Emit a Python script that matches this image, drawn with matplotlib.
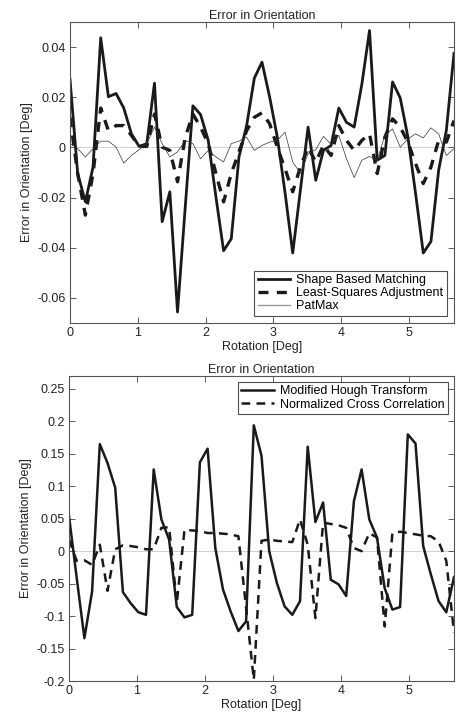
import numpy as np
import matplotlib
matplotlib.use("Agg")
import matplotlib.pyplot as plt

plt.rcParams['font.family'] = ['Liberation Sans', 'DejaVu Sans']

# rotation samples (51 evenly spaced steps)
step = 0.1133
rotation = np.arange(51) * step

# top panel
shape_based = [0.0272, -0.0104, -0.0217, -0.0078, 0.0437, 0.0202, 0.0215, 0.0157, 0.0054, 0.0004,
               0.0015, 0.0256, -0.0296, -0.0177, -0.0656, -0.0240, 0.0166, 0.0131, 0.0028, -0.0197,
               -0.0412, -0.0364, -0.0038, 0.0087, 0.0276, 0.0340, 0.0200, 0.0040, -0.0180, -0.0421,
               -0.0170, 0.0081, -0.0131, -0.0012, 0.0008, 0.0157, 0.0100, 0.0081, 0.0252, 0.0466,
               -0.0051, -0.0032, 0.0261, 0.0197, 0.0041, -0.0184, -0.0421, -0.0375, -0.0091, 0.0067,
               0.0375]
least_squares = [0.0120, -0.0104, -0.0270, -0.0104, 0.0157, 0.0067, 0.0087, 0.0087, 0.0048, 0.0004,
                 0.0004, 0.0133, 0.0001, -0.0012, -0.0137, 0.0040, 0.0133, 0.0081, 0.0015, -0.0104,
                 -0.0217, -0.0104, -0.0018, 0.0067, 0.0120, 0.0138, 0.0094, 0.0000, -0.0085, -0.0177,
                 -0.0078, 0.0001, -0.0058, 0.0008, -0.0032, 0.0087, 0.0028, -0.0012, 0.0028, 0.0054,
                 -0.0104, 0.0041, 0.0114, 0.0081, 0.0021, -0.0065, -0.0144, -0.0078, 0.0028, 0.0021,
                 0.0107]
patmax = [0.0015, -0.0005, -0.0038, -0.0005, 0.0025, 0.0025, 0.0001, -0.0062, -0.0032, -0.0009,
          0.0015, 0.0081, 0.0015, -0.0038, -0.0018, 0.0028, 0.0015, -0.0045, -0.0012, -0.0038,
          -0.0058, 0.0015, 0.0025, 0.0041, -0.0012, 0.0008, 0.0021, 0.0028, 0.0061, -0.0058,
          -0.0104, -0.0025, -0.0009, 0.0044, 0.0012, 0.0048, -0.0045, -0.0120, -0.0051, -0.0036,
          -0.0051, 0.0048, 0.0074, 0.0001, 0.0034, 0.0054, 0.0038, 0.0078, 0.0054, -0.0032,
          -0.0005]

# bottom panel
hough = [0.054, -0.041, -0.134, -0.062, 0.165, 0.136, 0.098, -0.063, -0.080, -0.094,
         -0.098, 0.126, 0.049, 0.018, -0.086, -0.102, -0.098, 0.137, 0.158, 0.005,
         -0.059, -0.093, -0.123, -0.108, 0.194, 0.147, 0.000, -0.049, -0.085, -0.098,
         -0.077, 0.161, 0.045, 0.075, -0.044, -0.051, -0.069, 0.077, 0.126, 0.049,
         0.021, -0.057, -0.090, -0.086, 0.180, 0.166, 0.008, -0.036, -0.077, -0.094,
         -0.040]
ncc = [0.018, -0.015, -0.014, -0.021, 0.010, -0.061, 0.003, 0.009, 0.008, 0.006,
       0.003, 0.003, 0.036, 0.037, -0.080, 0.033, 0.032, 0.031, 0.028, 0.028,
       0.027, 0.026, 0.023, -0.087, -0.198, 0.016, 0.018, 0.016, 0.015, 0.014,
       0.049, 0.010, -0.103, 0.044, 0.042, 0.040, 0.036, 0.005, 0.000, 0.028,
       0.021, -0.116, 0.028, 0.030, 0.028, 0.026, 0.024, 0.023, 0.015, -0.015,
       -0.125]

top_yticks = [-0.06, -0.04, -0.02, 0, 0.02, 0.04]
top_ylabels = ['-0.06', '-0.04', '-0.02', '0', '0.02', '0.04']
bot_yticks = [-0.2, -0.15, -0.1, -0.05, 0, 0.05, 0.1, 0.15, 0.2, 0.25]
bot_ylabels = ['-0.2', '-0.15', '-0.1', '-0.05', '0', '0.05', '0.1', '0.15', '0.2', '0.25']

fs = 9
fig = plt.figure(figsize=(4.57, 7.16), dpi=100)
ax1 = fig.add_axes([70 / 457, 1 - 323 / 716, 384 / 457, 301 / 716])
ax2 = fig.add_axes([69 / 457, 1 - 681 / 716, 385 / 457, 305 / 716])


def style_axes(ax, yticks, ylabels, ylim):
    ax.axhline(0, color='#d0d0d0', lw=0.7, zorder=0)
    ax.set_xlim(0, rotation[-1])
    ax.set_ylim(*ylim)
    ax.set_xticks([0, 1, 2, 3, 4, 5])
    ax.set_xticklabels(['0', '1', '2', '3', '4', '5'], fontsize=fs, color='#222222')
    ax.set_yticks(yticks)
    ax.set_yticklabels(ylabels, fontsize=fs, color='#222222')
    ax.tick_params(direction='in', top=True, right=True, length=4, width=0.6,
                   color='#444444', pad=3)
    for s in ax.spines.values():
        s.set_color('#555555')
        s.set_linewidth(0.8)
    ax.set_title('Error in Orientation', fontsize=fs, pad=2, color='#222222')
    ax.set_xlabel('Rotation [Deg]', fontsize=fs, labelpad=1, color='#222222')
    ax.set_ylabel('Error in Orientation [Deg]', fontsize=fs, labelpad=3, color='#222222')


ax1.plot(rotation, shape_based, color='#1a1a1a', lw=2.0, label='Shape Based Matching')
ax1.plot(rotation, least_squares, color='#1a1a1a', lw=2.4, ls=(0, (3, 2.5)),
         label='Least-Squares Adjustment')
ax1.plot(rotation, patmax, color='#333333', lw=0.5, label='PatMax')
style_axes(ax1, top_yticks, top_ylabels, (-0.07, 0.05))
leg1 = ax1.legend(loc='lower right', fontsize=fs, frameon=True, fancybox=False,
                  borderaxespad=0.6, handlelength=2.6, labelspacing=0.1,
                  borderpad=0.25, handletextpad=0.5)
leg1.get_frame().set_edgecolor('#222222')
leg1.get_frame().set_linewidth(0.8)
leg1.legend_handles[2].set_color('#999999')
leg1.legend_handles[2].set_linewidth(1.0)

ax2.plot(rotation, hough, color='#1a1a1a', lw=1.8, label='Modified Hough Transform')
ax2.plot(rotation, ncc, color='#1a1a1a', lw=1.8, ls=(0, (3.5, 2.5)),
         label='Normalized Cross Correlation')
style_axes(ax2, bot_yticks, bot_ylabels, (-0.2, 0.27))
leg2 = ax2.legend(loc='upper right', fontsize=fs, frameon=True, fancybox=False,
                  borderaxespad=0.5, handlelength=2.6, labelspacing=0.1,
                  borderpad=0.25, handletextpad=0.5)
leg2.get_frame().set_edgecolor('#222222')
leg2.get_frame().set_linewidth(0.8)

fig.savefig('out.png', dpi=100)
